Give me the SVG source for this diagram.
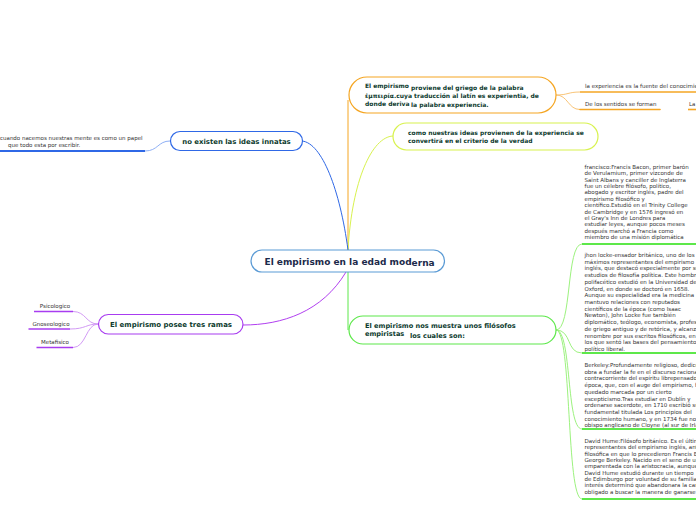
<svg xmlns="http://www.w3.org/2000/svg" width="696" height="520" viewBox="0 0 696 520">
<style>
.nt{font-family:"DejaVu Sans",Verdana,sans-serif;font-weight:bold;fill:#0d3b2e}
.sm{font-family:"DejaVu Sans",Verdana,sans-serif;font-size:5.5px;fill:#333}
.box{fill:#fff;stroke-width:1.2}
.c{fill:none;stroke-width:1}
</style>
<rect width="696" height="520" fill="#fff"/>
<g id="connectors">
  <path class="c" d="M348,250 L348,100" stroke="#f5a623" stroke-width="1.2"/>
  <path class="c" d="M348,250 C352,180 372,137 393,136" stroke="#d8f24e"/>
  <path class="c" d="M348,250 C340,190 322,143 302,141" stroke="#2f68e6" stroke-width="1.2"/>
  <path class="c" d="M346,272 C322,312 282,325 243,325" stroke="#b13ff0" stroke-width="1.2"/>
  <path class="c" d="M348,272 L348,330" stroke="#5de84a" stroke-width="1.2"/>
  <path class="c" d="M556,95 C568,95 568,92 580,92" stroke="#f9c477"/>
  <path class="c" d="M556,95 C568,95 568,109.5 580,109.5" stroke="#f9c477"/>
  <path class="c" d="M170,141 C158,141 158,151 145,151" stroke="#8fb0f5"/>
  <path class="c" d="M98,324 C86,324 86,311.5 73,311.5" stroke="#d29af5"/>
  <path class="c" d="M98,324 C86,324 86,329 70,329" stroke="#d29af5"/>
  <path class="c" d="M98,324 C86,324 86,347.5 73,347.5" stroke="#d29af5"/>
  <path class="c" d="M556,330 C572,330 566,244 582,244" stroke="#9cf27e"/>
  <path class="c" d="M556,330 C572,330 566,353 582,353" stroke="#9cf27e"/>
  <path class="c" d="M556,330 C572,330 566,429 582,429" stroke="#9cf27e"/>
  <path class="c" d="M556,330 C572,330 566,499 582,499" stroke="#9cf27e"/>
</g>
<g id="center">
  <rect class="box" x="251" y="250" width="193.5" height="22" rx="11" stroke="#5b9bd5"/>
  <text class="nt" x="264.5" y="264.5" font-size="9" style="fill:#1c2a4a">El empirismo en la edad mod<tspan dy="1">erna</tspan></text>
</g>
<g id="origen">
  <rect class="box" x="349" y="77" width="207" height="36" rx="18" stroke="#f5a623"/>
  <text class="nt" font-size="6"><tspan x="365" y="87.5">El empirismo</tspan><tspan x="411" y="89.5">proviene del griego de la palabra</tspan><tspan x="365" y="97.5">ἐμπειρία.cuya traducción al latín es experientia, de</tspan><tspan x="365" y="105.5">donde deriva</tspan><tspan x="411" y="107">la palabra experiencia.</tspan></text>
</g>
<g id="fuente">
  <text class="sm" x="585" y="88">la experiencia es la fuente del conocimiento</text>
  <line x1="580" y1="92" x2="696" y2="92" stroke="#f5a623" stroke-width="1.6"/>
</g>
<g id="sentidos">
  <text class="sm" x="585" y="106">De los sentidos se forman</text>
  <line x1="580" y1="109.5" x2="660" y2="109.5" stroke="#f5a623" stroke-width="1.6" stroke-linecap="round"/>
</g>
<g id="la">
  <text class="sm" x="689" y="106">La</text>
  <line x1="688" y1="109.5" x2="696" y2="109.5" stroke="#f5a623" stroke-width="1.6"/>
</g>
<g id="criterio">
  <rect class="box" x="393" y="123" width="205" height="27" rx="13.5" stroke="#d8f24e"/>
  <text class="nt" font-size="6"><tspan x="408" y="135">como nuestras ideas provienen de la experiencia se</tspan><tspan x="408" y="143">convertirá en el criterio de la verdad</tspan></text>
</g>
<g id="innatas">
  <rect class="box" x="170.5" y="131.5" width="132" height="19" rx="9.5" stroke="#2f68e6"/>
  <text class="nt" x="236.5" y="144" font-size="6.9" text-anchor="middle">no existen las ideas innatas</text>
</g>
<g id="papel">
  <text class="sm"><tspan x="0" y="139.5">cuando nacemos nuestras mente es como un papel</tspan><tspan x="8" y="146.5">que todo esta por escribir.</tspan></text>
  <line x1="0" y1="151" x2="145" y2="151" stroke="#2f68e6" stroke-width="2"/>
</g>
<g id="ramas">
  <rect class="box" x="98.5" y="314.5" width="144.5" height="19.5" rx="9.75" stroke="#a83cf0"/>
  <text class="nt" x="171" y="327" font-size="7" text-anchor="middle">El empirismo posee tres ramas</text>
</g>
<g id="psicologico">
  <text class="sm" x="55" y="308" text-anchor="middle">Psicologico</text>
  <line x1="34" y1="311.5" x2="73" y2="311.5" stroke="#a83cf0" stroke-width="1.6"/>
</g>
<g id="gnoseologico">
  <text class="sm" x="51" y="326" text-anchor="middle">Gnoseologico</text>
  <line x1="28.5" y1="329" x2="70" y2="329" stroke="#a83cf0" stroke-width="1.6"/>
</g>
<g id="metafisico">
  <text class="sm" x="55" y="344" text-anchor="middle">Metafisico</text>
  <line x1="36.5" y1="347.5" x2="73" y2="347.5" stroke="#a83cf0" stroke-width="1.6"/>
</g>
<g id="filosofos">
  <rect class="box" x="349" y="316" width="207" height="28" rx="14" stroke="#5de84a"/>
  <text class="nt" font-size="6.6"><tspan x="365" y="328">El empirismo nos muestra unos filósofos</tspan><tspan x="365" y="336">empiristas</tspan><tspan x="410" y="337.5">los cuales son:</tspan></text>
</g>
<g id="bacon">
  <text class="sm"><tspan x="584.5" y="168.7">francisco:Francis Bacon, primer barón</tspan><tspan x="584.5" dy="6.42">de Verulamium, primer vizconde de</tspan><tspan x="584.5" dy="6.42">Saint Albans y canciller de Inglaterra</tspan><tspan x="584.5" dy="6.42">fue un célebre filósofo, político,</tspan><tspan x="584.5" dy="6.42">abogado y escritor inglés, padre del</tspan><tspan x="584.5" dy="6.42">empirismo filosófico y</tspan><tspan x="584.5" dy="6.42">científico.Estudió en el Trinity College</tspan><tspan x="584.5" dy="6.42">de Cambridge y en 1576 ingresó en</tspan><tspan x="584.5" dy="6.42">el Gray's Inn de Londres para</tspan><tspan x="584.5" dy="6.42">estudiar leyes, aunque pocos meses</tspan><tspan x="584.5" dy="6.42">después marchó a Francia como</tspan><tspan x="584.5" dy="6.42">miembro de una misión diplomática</tspan></text>
  <line x1="582" y1="244" x2="696" y2="244" stroke="#5de84a" stroke-width="2"/>
</g>
<g id="locke">
  <text class="sm"><tspan x="584.5" y="257">jhon locke-ensador británico, uno de los</tspan><tspan x="584.5" dy="6.71">máximos representantes del empirismo</tspan><tspan x="584.5" dy="6.71">inglés, que destacó especialmente por sus</tspan><tspan x="584.5" dy="6.71">estudios de filosofía política. Este hombre</tspan><tspan x="584.5" dy="6.71">polifacético estudió en la Universidad de</tspan><tspan x="584.5" dy="6.71">Oxford, en donde se doctoró en 1658.</tspan><tspan x="584.5" dy="6.71">Aunque su especialidad era la medicina</tspan><tspan x="584.5" dy="6.71">mantuvo relaciones con reputados</tspan><tspan x="584.5" dy="6.71">científicos de la época (como Isaac</tspan><tspan x="584.5" dy="6.71">Newton), John Locke fue también</tspan><tspan x="584.5" dy="6.71">diplomático, teólogo, economista, profesor</tspan><tspan x="584.5" dy="6.71">de griego antiguo y de retórica, y alcanzó</tspan><tspan x="584.5" dy="6.71">renombre por sus escritos filosóficos, en</tspan><tspan x="584.5" dy="6.71">los que sentó las bases del pensamiento</tspan><tspan x="584.5" dy="6.71">político liberal.</tspan></text>
  <line x1="582" y1="353" x2="696" y2="353" stroke="#5de84a" stroke-width="2"/>
</g>
<g id="berkeley">
  <text class="sm"><tspan x="584.5" y="367">Berkeley:Profundamente religioso, dedicó su</tspan><tspan x="584.5" dy="6.7">obra a fundar la fe en el discurso racional</tspan><tspan x="584.5" dy="6.7">contracorriente del espíritu librepensador</tspan><tspan x="584.5" dy="6.7">época, que, con el auge del empirismo, había</tspan><tspan x="584.5" dy="6.7">quedado marcada por un cierto</tspan><tspan x="584.5" dy="6.7">escepticismo.Tras estudiar en Dublín y</tspan><tspan x="584.5" dy="6.7">ordenarse sacerdote, en 1710 escribió su</tspan><tspan x="584.5" dy="6.7">fundamental titulada Los principios del</tspan><tspan x="584.5" dy="6.7">conocimiento humano, y en 1734 fue nombrado</tspan><tspan x="584.5" dy="6.7">obispo anglicano de Cloyne (al sur de Irlanda)</tspan></text>
  <line x1="582" y1="429" x2="696" y2="429" stroke="#5de84a" stroke-width="2"/>
</g>
<g id="hume">
  <text class="sm"><tspan x="584.5" y="443">David Hume:Filósofo británico. Es el último</tspan><tspan x="584.5" dy="6.33">representantes del empirismo inglés, antes</tspan><tspan x="584.5" dy="6.33">filosófica en que lo precedieron Francis Bacon</tspan><tspan x="584.5" dy="6.33">George Berkeley. Nacido en el seno de una</tspan><tspan x="584.5" dy="6.33">emparentada con la aristocracia, aunque</tspan><tspan x="584.5" dy="6.33">David Hume estudió durante un tiempo</tspan><tspan x="584.5" dy="6.33">de Edimburgo por voluntad de su familia</tspan><tspan x="584.5" dy="6.33">interés determinó que abandonara la carrera</tspan><tspan x="584.5" dy="6.33">obligado a buscar la manera de ganarse</tspan></text>
  <line x1="582" y1="499" x2="696" y2="499" stroke="#5de84a" stroke-width="2"/>
</g>
</svg>
